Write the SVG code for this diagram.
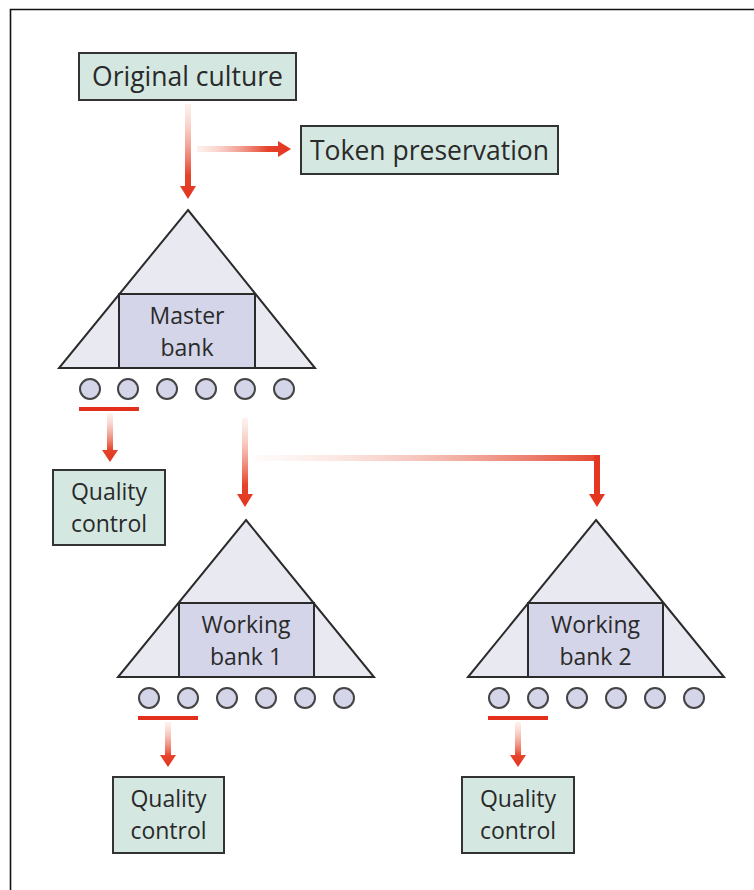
<svg xmlns="http://www.w3.org/2000/svg" width="754" height="890" viewBox="0 0 754 890">
  <defs>
    <!-- fading red used by the flow arrows -->
    <linearGradient id="fadeDown" x1="0" y1="0" x2="0" y2="1">
      <stop offset="0" stop-color="#f7c9bc" stop-opacity="0.25"/>
      <stop offset="0.75" stop-color="#e6432b"/>
      <stop offset="1" stop-color="#e2361f"/>
    </linearGradient>
    <linearGradient id="fadeRight" x1="0" y1="0" x2="1" y2="0">
      <stop offset="0" stop-color="#f7c9bc" stop-opacity="0.25"/>
      <stop offset="0.75" stop-color="#e6432b"/>
      <stop offset="1" stop-color="#e2361f"/>
    </linearGradient>
    <linearGradient id="fadeBranch" x1="0" y1="0" x2="1" y2="0">
      <stop offset="0" stop-color="#f7d3c8" stop-opacity="0.1"/>
      <stop offset="1" stop-color="#e4452e"/>
    </linearGradient>
    <style>
      .box { fill: #d4e8e1; stroke: #333; stroke-width: 2; }
      .tri { fill: #e8e9f1; stroke: #2b2b2b; stroke-width: 2; stroke-linejoin: miter; }
      .core { fill: #d4d5e8; stroke: #2b2b2b; stroke-width: 2; }
      .vial { fill: #d4d5e8; stroke: #444; stroke-width: 2; }
      .pick { stroke: #e3301c; stroke-width: 4; }
      .lbl { font-family: "Open Sans", "Noto Sans", "Liberation Sans", sans-serif; font-size: 26.5px; fill: #2a2a2a; text-anchor: middle; }
      .lbl2 { font-family: "Open Sans", "Noto Sans", "Liberation Sans", sans-serif; font-size: 23px; fill: #2a2a2a; text-anchor: middle; }
      .red { fill: #e3371f; }
    </style>
  </defs>

  <!-- frame -->
  <path d="M10.5 890 V9.5 H754" fill="none" stroke="#111" stroke-width="1.6"/>

  <!-- connectors -->
  <g id="connectors">
    <!-- original culture -> master bank -->
    <path d="M185 104 H191 V186 H196 L188 199 L180 186 H185 Z" fill="url(#fadeDown)"/>
    <!-- original culture -> token preservation -->
    <path d="M197 146 V152 H278 V157 L291 149 L278 141 V146 Z" fill="url(#fadeRight)"/>
    <!-- master bank -> working bank 1 -->
    <path d="M242 418 H248 V494 H253 L245 507 L237 494 H242 Z" fill="url(#fadeDown)"/>
    <!-- master bank -> working bank 2 -->
    <rect x="255" y="455" width="345" height="6" fill="url(#fadeBranch)"/>
    <path d="M594 455 H600 V494 H605 L597 507 L589 494 H594 Z" class="red"/>
    <!-- sampled vials -> quality control -->
    <path d="M107 413 H113 V450 H118 L110 462 L102 450 H107 Z" fill="url(#fadeDown)"/>
    <path d="M165 722 H171 V755 H176 L168 767 L160 755 H165 Z" fill="url(#fadeDown)"/>
    <path d="M515 722 H521 V755 H526 L518 767 L510 755 H515 Z" fill="url(#fadeDown)"/>
  </g>

  <g id="original-culture">
    <rect class="box" x="79" y="53" width="217" height="47"/>
    <text class="lbl" x="187.5" y="86">Original culture</text>
  </g>

  <g id="token-preservation">
    <rect class="box" x="301" y="126" width="257" height="48"/>
    <text class="lbl" x="429.5" y="160">Token preservation</text>
  </g>

  <g id="master-bank">
    <polygon class="tri" points="188,210 315,368 59,368"/>
    <rect class="core" x="119" y="294" width="136" height="74"/>
    <text class="lbl2" x="187" y="324">Master</text>
    <text class="lbl2" x="187" y="356">bank</text>
    <circle class="vial" cx="90" cy="389" r="10"/>
    <circle class="vial" cx="128" cy="389" r="10"/>
    <circle class="vial" cx="167" cy="389" r="10"/>
    <circle class="vial" cx="206" cy="389" r="10"/>
    <circle class="vial" cx="245" cy="389" r="10"/>
    <circle class="vial" cx="284" cy="389" r="10"/>
    <line class="pick" x1="79" y1="409" x2="139" y2="409"/>
  </g>

  <g id="qc-master">
    <rect class="box" x="53" y="470" width="112" height="75"/>
    <text class="lbl2" x="109" y="500">Quality</text>
    <text class="lbl2" x="109" y="532">control</text>
  </g>

  <g id="working-bank-1">
    <polygon class="tri" points="246,520 374,677 118,677"/>
    <rect class="core" x="179" y="603" width="135" height="74"/>
    <text class="lbl2" x="246" y="633">Working</text>
    <text class="lbl2" x="246" y="665">bank 1</text>
    <circle class="vial" cx="149" cy="698" r="10"/>
    <circle class="vial" cx="188" cy="698" r="10"/>
    <circle class="vial" cx="227" cy="698" r="10"/>
    <circle class="vial" cx="266" cy="698" r="10"/>
    <circle class="vial" cx="305" cy="698" r="10"/>
    <circle class="vial" cx="344" cy="698" r="10"/>
    <line class="pick" x1="138" y1="718" x2="198" y2="718"/>
  </g>

  <g id="qc-working-1">
    <rect class="box" x="113" y="777" width="111" height="76"/>
    <text class="lbl2" x="168.5" y="807">Quality</text>
    <text class="lbl2" x="168.5" y="839">control</text>
  </g>

  <g id="working-bank-2">
    <polygon class="tri" points="596,520 724,677 468,677"/>
    <rect class="core" x="528" y="603" width="135" height="74"/>
    <text class="lbl2" x="595.5" y="633">Working</text>
    <text class="lbl2" x="595.5" y="665">bank 2</text>
    <circle class="vial" cx="499" cy="698" r="10"/>
    <circle class="vial" cx="538" cy="698" r="10"/>
    <circle class="vial" cx="577" cy="698" r="10"/>
    <circle class="vial" cx="616" cy="698" r="10"/>
    <circle class="vial" cx="655" cy="698" r="10"/>
    <circle class="vial" cx="694" cy="698" r="10"/>
    <line class="pick" x1="488" y1="718" x2="548" y2="718"/>
  </g>

  <g id="qc-working-2">
    <rect class="box" x="462" y="777" width="112" height="76"/>
    <text class="lbl2" x="518" y="807">Quality</text>
    <text class="lbl2" x="518" y="839">control</text>
  </g>
</svg>
